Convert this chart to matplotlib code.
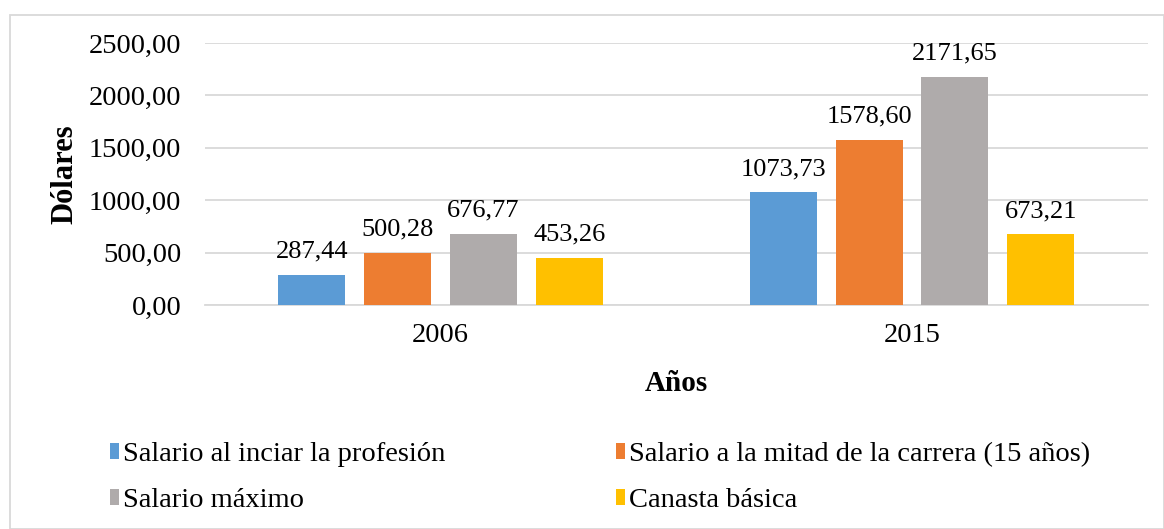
import matplotlib
matplotlib.use("Agg")
import matplotlib.pyplot as plt
import numpy as np
from matplotlib.patches import Rectangle, Patch

plt.rcParams["font.family"] = ["Liberation Serif", "DejaVu Serif"]

# Data
years = ["2006", "2015"]
series_names = [
    "Salario al inciar la profesión",
    "Salario a la mitad de la carrera (15 años)",
    "Salario máximo",
    "Canasta básica",
]
inicio = [287.44, 1073.73]
mitad = [500.28, 1578.60]
maximo = [676.77, 2171.65]
canasta = [453.26, 673.21]
yticks = [0, 500, 1000, 1500, 2000, 2500]

colors = ["#5B9BD5", "#ED7D31", "#AFABAB", "#FFC000"]

fig = plt.figure(figsize=(11.64, 5.29), dpi=100)
ax = fig.add_axes([0.176, 0.4234, 0.810, 0.4953])

x = np.arange(len(years))
width = 0.142
step = 0.182
series = [inicio, mitad, maximo, canasta]
for i, vals in enumerate(series):
    pos = x + (i - 1.5) * step
    bars = ax.bar(pos, vals, width=width, color=colors[i], label=series_names[i], zorder=3)
    for b, v in zip(bars, vals):
        ax.annotate(f"{v:.2f}".replace(".", ","), (b.get_x() + b.get_width() / 2, v),
                    xytext=(0, 9), textcoords="offset points", ha="center", va="bottom",
                    fontsize=19)

ax.set_xlim(-0.5, 1.5)
ax.set_ylim(0, 2500)
ax.set_yticks(yticks)
ax.set_yticklabels([f"{t:.2f}".replace(".", ",") for t in yticks], fontsize=20.5)
ax.set_xticks(x)
ax.set_xticklabels(years, fontsize=20.5)
ax.tick_params(axis="y", length=0, pad=17)
ax.tick_params(axis="x", length=0, pad=13)
ax.yaxis.grid(True, color="#D9D9D9", linewidth=1.3, zorder=0)
for s in ["top", "right", "left"]:
    ax.spines[s].set_visible(False)
ax.spines["bottom"].set_color("#D9D9D9")
ax.spines["bottom"].set_linewidth(1.3)

ax.set_ylabel("Dólares", fontsize=22, fontweight="bold")
ax.yaxis.set_label_coords(-0.148, 0.5)
ax.yaxis.label.set_va("center")
ax.set_xlabel("Años", fontsize=21, fontweight="bold")
ax.xaxis.set_label_coords(0.5, -0.298)
ax.xaxis.label.set_va("center")

handles = [Patch(facecolor=c) for c in colors]
leg_kw = dict(loc="center left", frameon=False, fontsize=20.5, handlelength=0.3,
              handleheight=0.5, handletextpad=0.15, labelspacing=0.75, borderpad=0,
              borderaxespad=0)
leg1 = fig.legend([handles[0], handles[2]], [series_names[0], series_names[2]],
                  bbox_to_anchor=(110 / 1164, 1 - 477.5 / 529), **leg_kw)
leg2 = fig.legend([handles[1], handles[3]], [series_names[1], series_names[3]],
                  bbox_to_anchor=(616 / 1164, 1 - 477.5 / 529), **leg_kw)

fig.patches.append(Rectangle((10 / 1164, 0), 1 - 10 / 1164, 1 - 15 / 529, transform=fig.transFigure,
                             fill=False, edgecolor="#D9D9D9", linewidth=1.3))

fig.savefig("out.png", dpi=100)
